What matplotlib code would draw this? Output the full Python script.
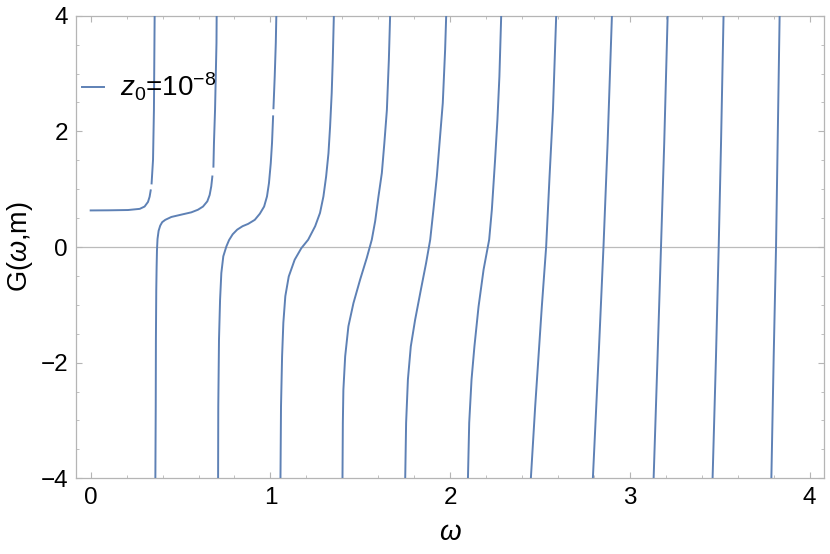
import numpy as np
import matplotlib
matplotlib.use("Agg")
import matplotlib.pyplot as plt
from matplotlib.ticker import MultipleLocator

plt.rcParams['font.family'] = ['Liberation Sans', 'DejaVu Sans']
plt.rcParams['mathtext.fontset'] = 'custom'
plt.rcParams['mathtext.rm'] = 'Liberation Sans'
plt.rcParams['mathtext.it'] = 'Liberation Sans:italic'

nan = np.nan

# branches of G(omega, m) (nan = gap in the drawn curve)
branch_x = [
    [0.0, 0.10, 0.208, 0.273, 0.30, 0.319, 0.328, 0.334, nan, 0.339, 0.347, 0.352, 0.356],
    [0.360, 0.362, 0.363, 0.365, 0.367, 0.369, 0.372, 0.378, 0.387, 0.398, 0.415, 0.449, 0.504, 0.56,
     0.597, 0.625, 0.649, 0.662, 0.671, 0.677, nan, 0.683, 0.686, 0.692, 0.696, 0.700, 0.701],
    [0.709, 0.710, 0.714, 0.720, 0.727, 0.738, 0.755, 0.77, 0.79, 0.815, 0.845, 0.876, 0.913, 0.941,
     0.965, 0.981, 0.992, 1.002, 1.009, 1.015, nan, 1.017, 1.024, 1.030, 1.033],
    [1.056, 1.059, 1.065, 1.072, 1.083, 1.102, 1.135, 1.172, 1.21, 1.249, 1.276, 1.295, 1.31, 1.323,
     1.332, 1.341, 1.347, 1.353],
    [1.401, 1.403, 1.406, 1.416, 1.434, 1.462, 1.499, 1.536, 1.564, 1.583, 1.601, 1.62, 1.634, 1.648,
     1.659, 1.666],
    [1.75, 1.755, 1.765, 1.781, 1.805, 1.837, 1.866, 1.889, 1.907, 1.926, 1.941, 1.959, 1.972, 1.978],
    [2.099, 2.106, 2.119, 2.135, 2.158, 2.186, 2.217, 2.232, 2.25, 2.263, 2.274, 2.284],
    [2.449, 2.473, 2.51, 2.534, 2.553, 2.572, 2.59],
    [2.794, 2.826, 2.853, 2.876, 2.90],
    [3.132, 3.154, 3.173, 3.191, 3.21],
    [3.46, 3.479, 3.494, 3.507, 3.521],
    [3.787, 3.80, 3.813, 3.822, 3.833],
]
branch_y = [
    [0.633, 0.635, 0.64, 0.66, 0.70, 0.78, 0.87, 0.98, nan, 1.10, 1.51, 2.37, 4.0],
    [-4.0, -2.76, -1.60, -0.74, -0.34, -0.05, 0.14, 0.28, 0.37, 0.43, 0.47, 0.52, 0.56, 0.60,
     0.645, 0.70, 0.79, 0.90, 1.05, 1.22, nan, 1.39, 1.80, 2.37, 2.95, 3.53, 4.0],
    [-4.0, -2.76, -1.60, -0.91, -0.45, -0.16, 0.01, 0.12, 0.22, 0.30, 0.36, 0.40, 0.47, 0.575,
     0.70, 0.875, 1.105, 1.45, 1.80, 2.26, nan, 2.40, 2.95, 3.53, 4.0],
    [-4.0, -2.76, -1.89, -1.31, -0.85, -0.51, -0.22, -0.02, 0.126, 0.36, 0.59, 0.875, 1.22, 1.62,
     2.08, 2.66, 3.24, 4.0],
    [-4.0, -3.04, -2.47, -1.89, -1.37, -0.97, -0.565, -0.19, 0.126, 0.45, 0.87, 1.28, 1.80, 2.37,
     3.24, 4.0],
    [-4.0, -3.04, -2.29, -1.72, -1.26, -0.74, -0.28, 0.126, 0.645, 1.22, 1.80, 2.49, 3.41, 4.0],
    [-4.0, -3.04, -2.29, -1.72, -1.03, -0.39, 0.126, 0.645, 1.51, 2.20, 2.95, 4.0],
    [-4.0, -2.76, -1.03, 0.0, 1.22, 2.37, 4.0],
    [-4.0, -1.89, 0.0, 1.80, 4.0],
    [-4.0, -1.89, 0.0, 1.80, 4.0],
    [-4.0, -1.89, 0.0, 1.80, 4.0],
    [-4.0, -1.89, 0.0, 1.80, 4.0],
]
x_ticks = [0, 1, 2, 3, 4]
y_ticks = [-4, -2, 0, 2, 4]
legend_label = r'$z_0$=10$^{-8}$'

line_color = '#5E81B5'
frame_color = '#b5b5b5'

fig = plt.figure(figsize=(8.3, 5.54), dpi=100)
ax = fig.add_axes([0.0919, 0.1366, 0.9009, 0.835])

ax.axhline(0, color='#bbbbbb', lw=0.9, zorder=1)
for i in range(len(branch_x)):
    ax.plot(branch_x[i], branch_y[i], color=line_color, lw=1.4, zorder=3,
            solid_joinstyle='round', label=legend_label if i == 0 else None)

ax.set_xlim(-0.08, 4.08)
ax.set_ylim(-4, 4)
ax.set_xticks(x_ticks)
ax.set_yticks(y_ticks)
ax.xaxis.set_minor_locator(MultipleLocator(0.2))
ax.yaxis.set_minor_locator(MultipleLocator(0.5))
ax.tick_params(which='both', direction='in', top=True, right=True,
               color=frame_color, labelsize=17.5, labelcolor='black')
ax.tick_params(which='major', length=4, width=0.8, pad=6)
ax.tick_params(which='minor', length=2.2, width=0.6)
for s in ax.spines.values():
    s.set_color(frame_color)
    s.set_linewidth(0.9)

ax.set_xlabel(r'$\omega$', fontsize=20, labelpad=8)
ax.set_ylabel(r'G($\omega$,m)', fontsize=19.5, labelpad=4)

ax.legend(loc='center left', bbox_to_anchor=(0.007, 0.846), frameon=False,
          fontsize=20, handlelength=0.8, handletextpad=0.6,
          borderpad=0, borderaxespad=0)

fig.savefig('out.png', dpi=100)
